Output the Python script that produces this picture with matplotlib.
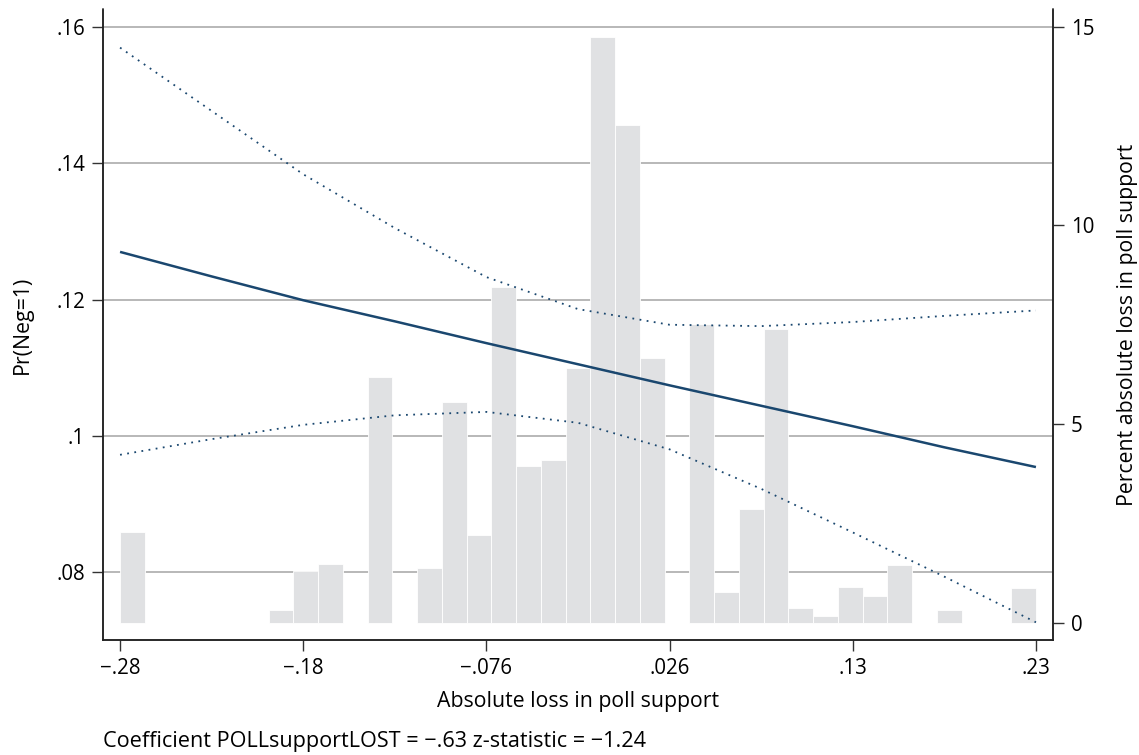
import numpy as np
import matplotlib
matplotlib.use("Agg")
from matplotlib import pyplot as plt

# histogram of the moderator (percent of observations per bin)
bin_lo = -0.28
bin_hi = 0.23
pct = [2.29, 0, 0, 0, 0, 0, 0.31, 1.29, 1.47, 0, 6.18, 0, 1.37, 5.55, 2.21, 8.46,
       3.95, 4.10, 6.40, 14.74, 12.53, 6.67, 0, 7.51, 0.77, 2.85, 7.40, 0.36, 0.16,
       0.91, 0.67, 1.44, 0, 0.32, 0, 0, 0.87]

# predicted Pr(Neg=1) and 95% CI
at_x = [-0.28, -0.229, -0.178, -0.127, -0.076, -0.025, 0.026, 0.077, 0.128, 0.179, 0.23]
pr = [0.1270, 0.1234, 0.1199, 0.1168, 0.1136, 0.1105, 0.1074, 0.1044, 0.1014, 0.0983, 0.0954]
ci_hi = [0.1570, 0.1477, 0.1384, 0.1305, 0.1233, 0.1186, 0.1163, 0.1161, 0.1167, 0.1176, 0.1184]
ci_lo = [0.0972, 0.0995, 0.1016, 0.1030, 0.1035, 0.1019, 0.0980, 0.0922, 0.0858, 0.0793, 0.0726]

xticks = [-0.28, -0.178, -0.076, 0.026, 0.128, 0.23]
xticklabels = ["\u2212.28", "\u2212.18", "\u2212.076", ".026", ".13", ".23"]
yticks = [0.08, 0.10, 0.12, 0.14, 0.16]
yticklabels = [".08", ".1", ".12", ".14", ".16"]
rticks = [0, 5, 10, 15]

navy = "#1a476f"
plt.rcParams["font.family"] = ["Open Sans", "DejaVu Sans"]
tick_fs = 14.8
title_fs = 15.3
note_fs = 15.6

fig = plt.figure(figsize=(11.39, 7.55), dpi=100)
pos = [103 / 1139, 1 - 640 / 755, 950 / 1139, 630.5 / 755]

ax = fig.add_axes(pos)
ax.set_xlim(-0.2895, 0.2395)
ax.set_ylim(0.0700, 0.1626)
ax.set_yticks(yticks)
ax.set_yticklabels(yticklabels)
ax.set_xticks(xticks)
ax.set_xticklabels(xticklabels)
for y in yticks:
    ax.axhline(y, color="#a4a4a4", lw=1.1, zorder=0)
ax.set_ylabel("Pr(Neg=1)", fontsize=title_fs, va="center")
ax.yaxis.set_label_coords((22 - 103) / 950, 0.5)
ax.set_xlabel("Absolute loss in poll support", fontsize=title_fs, va="center")
ax.xaxis.set_label_coords(0.5, (640 - 702) / 630.5)
ax.spines["top"].set_visible(False)
ax.tick_params(axis="both", length=8, width=1.0, color="#333333", pad=5, labelsize=tick_fs)

# histogram on the right axis
axh = ax.twinx()
n_bins = len(pct)
bw = (bin_hi - bin_lo) / n_bins
lefts = bin_lo + bw * np.arange(n_bins)
axh.bar(lefts, pct, width=bw, align="edge", color="#e0e1e3",
        edgecolor="white", linewidth=0.6)
axh.set_ylim(-0.435, 15.433)
axh.set_yticks(rticks)
axh.set_ylabel("Percent absolute loss in poll support", fontsize=title_fs, va="center")
axh.yaxis.set_label_coords((1128 - 103) / 950, 0.5)
axh.spines["top"].set_visible(False)
axh.tick_params(axis="y", length=8, width=1.0, color="#333333", pad=5, labelsize=tick_fs)

# lines on top
axl = fig.add_axes(pos, sharex=ax, sharey=ax)
axl.patch.set_visible(False)
axl.axis("off")
axl.plot(at_x, pr, color=navy, lw=1.8, solid_capstyle="butt")
axl.plot(at_x, ci_hi, color=navy, lw=1.3, linestyle=(0, (1, 3)))
axl.plot(at_x, ci_lo, color=navy, lw=1.3, linestyle=(0, (1, 3)))

for a in (ax, axh):
    for s in ("left", "right", "bottom"):
        a.spines[s].set_color("#222222")
        a.spines[s].set_linewidth(1.1)

fig.text(103 / 1139, 1 - 742 / 755, "Coefficient POLLsupportLOST = \u2212.63 z-statistic = \u22121.24",
         ha="left", va="center", fontsize=note_fs)

fig.savefig("out.png", dpi=100)
